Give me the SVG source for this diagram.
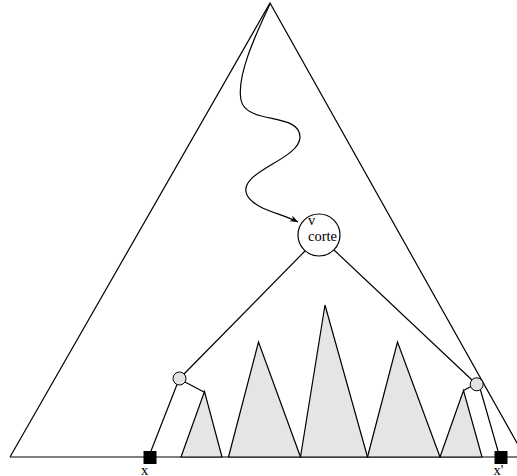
<svg xmlns="http://www.w3.org/2000/svg" width="517" height="476" viewBox="0 0 517 476">
  <defs>
    <marker id="arrow" viewBox="0 0 10 10" refX="10" refY="5" markerWidth="10" markerHeight="8" markerUnits="userSpaceOnUse" orient="auto">
      <path d="M0,1 L10,5 L0,9 L3,5 Z" fill="#000"/>
    </marker>
    <style>
      .line { fill: none; stroke: #000; stroke-width: 1.2; }
      .sub { fill: #e5e5e5; stroke: #000; stroke-width: 1.2; stroke-linejoin: miter; }
      .node { fill: #fff; stroke: #000; stroke-width: 1.2; }
      .small { fill: #e3e3e3; stroke: #000; stroke-width: 1; }
      .leaf { fill: #000; }
      .lbl { font-family: "Liberation Serif", "Times New Roman", serif; font-size: 14.5px; fill: #000; }
    </style>
  </defs>

  <!-- outer tree outline and baseline -->
  <g id="tree">
    <polyline class="line" points="10,457 270,3 531,468"/>
    <line class="line" x1="10" y1="457" x2="517" y2="457"/>
  </g>

  <!-- shaded subtrees along the base -->
  <g id="subtrees">
    <polygon class="sub" points="181,457 204.5,391.5 222,457"/>
    <polygon class="sub" points="228.5,457 258.5,342 300.5,457"/>
    <polygon class="sub" points="300.5,457 325,305 367.5,457"/>
    <polygon class="sub" points="367.5,457 397.5,342 440,457"/>
    <polygon class="sub" points="440,457 463.5,390.5 482,457"/>
  </g>

  <g id="connectors">
    <!-- wavy path from the root down to v corte -->
    <path class="line" marker-end="url(#arrow)" d="M270,4 C258,30 236,75 241,100 C246,125 300,112 300,137 C300,160 236,172 247,195 C254,209 280,213 298,222"/>
    <line class="line" x1="305" y1="251" x2="184" y2="374"/>
    <line class="line" x1="334" y1="250" x2="472" y2="380"/>
    <line class="line" x1="177" y1="384.5" x2="151" y2="451"/>
    <line class="line" x1="185" y1="382" x2="204" y2="392"/>
    <line class="line" x1="480.5" y1="390" x2="498" y2="451"/>
    <line class="line" x1="471" y1="386.5" x2="463.5" y2="390.5"/>
  </g>

  <g id="v-corte">
    <circle class="node" cx="319" cy="235" r="21"/>
    <text class="lbl" x="308" y="224.5">v</text>
    <text class="lbl" x="308" y="241">corte</text>
  </g>

  <g id="left-branch">
    <circle class="small" cx="179.5" cy="378.5" r="6.5"/>
  </g>

  <g id="right-branch">
    <circle class="small" cx="476.7" cy="384.3" r="6.5"/>
  </g>

  <g id="leaf-x">
    <rect class="leaf" x="143.5" y="451" width="13" height="13"/>
    <text class="lbl" x="141" y="474.5">x</text>
  </g>

  <g id="leaf-x-prime">
    <rect class="leaf" x="494.5" y="451" width="13" height="13"/>
    <text class="lbl" x="493.5" y="474.5">x'</text>
  </g>
</svg>
